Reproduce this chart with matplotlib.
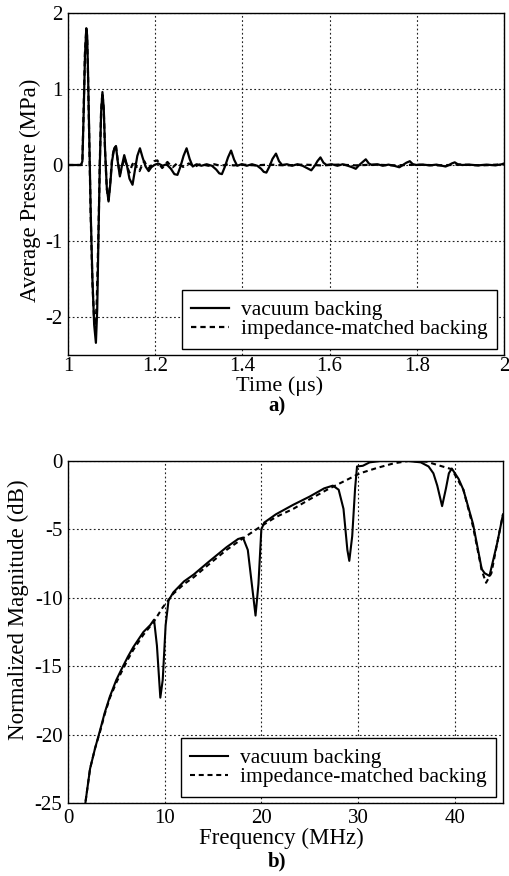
import matplotlib
matplotlib.use("Agg")
import matplotlib.pyplot as plt
from matplotlib.ticker import FuncFormatter

plt.rcParams['font.family'] = ['Liberation Serif', 'DejaVu Serif']

# ---------------- data: panel a) time signals ----------------
t_vacuum = [1.000, 1.030, 1.033, 1.036, 1.039, 1.042, 1.044, 1.046, 1.049, 1.052,
            1.056, 1.060, 1.064, 1.067, 1.070, 1.073, 1.076, 1.079, 1.082, 1.085,
            1.089, 1.093, 1.097, 1.101, 1.106, 1.110, 1.114, 1.119, 1.124, 1.129,
            1.135, 1.141, 1.148, 1.154, 1.159, 1.165, 1.171, 1.178, 1.185, 1.191,
            1.198, 1.207, 1.217, 1.226, 1.236, 1.244, 1.251, 1.258, 1.265, 1.272,
            1.279, 1.286, 1.295, 1.306, 1.318, 1.330, 1.340, 1.347, 1.353, 1.360,
            1.367, 1.374, 1.381, 1.388, 1.398, 1.410, 1.422, 1.434, 1.443, 1.449,
            1.455, 1.462, 1.469, 1.477, 1.484, 1.491, 1.502, 1.514, 1.526, 1.538,
            1.548, 1.558, 1.566, 1.572, 1.579, 1.586, 1.593, 1.605, 1.618, 1.630,
            1.642, 1.652, 1.660, 1.668, 1.676, 1.683, 1.690, 1.697, 1.710, 1.722,
            1.735, 1.748, 1.760, 1.768, 1.776, 1.784, 1.791, 1.800, 1.815, 1.830,
            1.845, 1.858, 1.866, 1.874, 1.880, 1.887, 1.894, 1.905, 1.920, 1.940,
            1.960, 1.980, 1.995, 2.000]
p_vacuum = [0.00, 0.00, 0.05, 0.70, 1.45, 1.80, 1.70, 1.20, 0.30, -0.60,
            -1.50, -2.10, -2.34, -1.90, -0.90, 0.00, 0.70, 0.96, 0.75, 0.20,
            -0.30, -0.48, -0.25, 0.05, 0.22, 0.25, 0.05, -0.15, 0.00, 0.13,
            0.00, -0.18, -0.26, -0.05, 0.12, 0.22, 0.10, -0.02, -0.08, -0.03,
            0.00, 0.02, -0.01, 0.01, -0.05, -0.12, -0.13, -0.02, 0.12, 0.22,
            0.08, -0.02, 0.01, -0.01, 0.01, -0.01, -0.06, -0.11, -0.12, -0.02,
            0.10, 0.19, 0.07, -0.01, 0.01, -0.01, 0.01, -0.01, -0.05, -0.09,
            -0.10, -0.02, 0.08, 0.15, 0.05, 0.00, 0.01, -0.01, 0.01, -0.01,
            -0.04, -0.07, -0.01, 0.05, 0.10, 0.03, 0.00, 0.01, -0.01, 0.01,
            -0.01, -0.03, -0.05, 0.00, 0.04, 0.075, 0.02, 0.00, 0.01, -0.01,
            0.005, -0.01, -0.03, 0.00, 0.03, 0.05, 0.01, 0.00, 0.005, -0.005,
            0.005, -0.01, -0.02, 0.00, 0.02, 0.035, 0.01, 0.00, 0.005, -0.005,
            0.005, -0.005, 0.01, 0.02]

t_matched = [1.000, 1.030, 1.033, 1.036, 1.039, 1.042, 1.044, 1.046, 1.049, 1.052,
             1.056, 1.060, 1.063, 1.066, 1.070, 1.073, 1.076, 1.079, 1.082, 1.085,
             1.089, 1.093, 1.097, 1.101, 1.106, 1.110, 1.115, 1.119, 1.125, 1.130,
             1.136, 1.141, 1.147, 1.152, 1.158, 1.164, 1.170, 1.175, 1.181, 1.186,
             1.192, 1.198, 1.205, 1.211, 1.216, 1.222, 1.228, 1.234, 1.240, 1.246,
             1.252, 1.258, 1.264, 1.271, 1.277, 1.284, 1.291, 1.299, 1.306, 1.314,
             1.322, 1.335, 1.350, 1.365, 1.380, 1.400, 1.430, 1.460, 1.500, 1.540,
             1.580, 1.620, 1.660, 1.700, 1.750, 1.800, 1.850, 1.900, 1.950, 2.000]
p_matched = [0.00, 0.00, 0.05, 0.75, 1.50, 1.78, 1.65, 1.15, 0.25, -0.65,
             -1.55, -2.05, -2.12, -1.80, -0.85, 0.05, 0.72, 0.95, 0.72, 0.18,
             -0.32, -0.46, -0.22, 0.08, 0.23, 0.24, 0.02, -0.12, 0.00, 0.09,
             -0.03, -0.10, 0.00, 0.05, -0.04, -0.08, 0.00, 0.05, -0.02, -0.04,
             0.00, 0.05, 0.06, 0.00, -0.04, 0.00, 0.04, 0.00, -0.03, 0.00,
             0.03, 0.00, -0.025, 0.00, 0.02, 0.00, -0.02, 0.00, 0.015, 0.00,
             -0.01, 0.01, -0.01, 0.005, -0.005, 0.005, -0.005, 0.005, -0.005, 0.005,
             -0.005, 0.005, -0.005, 0.005, -0.005, 0.005, -0.005, 0.005, -0.005, 0.01]

# ---------------- data: panel b) spectra ----------------
f_vacuum = [1.70, 2.28, 2.8, 3.31, 3.8, 4.34, 5.0, 5.55, 6.2, 6.76,
            7.8, 8.5, 8.9, 9.2, 9.55, 9.8, 10.1, 10.4, 10.9, 12.0,
            13.0, 14.5, 16.4, 17.6, 18.1, 18.6, 19.1, 19.4, 19.7, 20.0,
            20.3, 21.5, 23.3, 25.0, 26.5, 27.4, 28.0, 28.5, 28.9, 29.1,
            29.4, 29.7, 29.9, 30.5, 31.2, 32.3, 34.0, 35.2, 36.5, 37.3,
            37.8, 38.2, 38.7, 39.1, 39.4, 39.7, 40.4, 40.9, 41.9, 42.5,
            42.8, 43.1, 43.6, 44.0, 44.4, 45.0]
db_vacuum = [-25.5, -22.5, -21.0, -19.7, -18.4, -17.2, -16.0, -15.2, -14.3, -13.6,
             -12.5, -12.0, -11.6, -13.5, -17.3, -16.0, -12.0, -10.2, -9.6, -8.8,
             -8.3, -7.4, -6.3, -5.7, -5.6, -6.5, -9.5, -11.3, -9.0, -5.0,
             -4.5, -3.9, -3.2, -2.6, -2.0, -1.8, -2.1, -3.5, -6.5, -7.3,
             -5.5, -2.0, -0.4, -0.35, -0.1, 0.0, 0.0, 0.0, -0.1, -0.4,
             -0.9, -1.8, -3.3, -2.0, -0.9, -0.55, -1.3, -2.1, -4.6, -6.8,
             -7.9, -8.2, -8.4, -7.2, -6.0, -3.9]

f_matched = [1.70, 2.28, 2.8, 3.31, 3.8, 4.34, 5.0, 5.55, 6.2, 6.76,
             7.8, 8.83, 9.8, 10.9, 12.0, 13.0, 14.5, 16.4, 18.0, 19.9,
             21.5, 23.3, 25.0, 26.8, 28.5, 30.2, 32.0, 33.7, 35.2, 36.2,
             37.1, 38.5, 39.7, 40.9, 41.9, 42.8, 43.25, 43.8, 44.4, 45.0]
db_matched = [-25.5, -22.5, -21.0, -19.8, -18.5, -17.3, -16.2, -15.4, -14.5, -13.8,
              -12.7, -11.8, -10.7, -9.7, -9.0, -8.5, -7.6, -6.5, -5.7, -4.8,
              -4.1, -3.5, -2.8, -2.1, -1.5, -0.9, -0.5, -0.17, 0.0, -0.02,
              -0.05, -0.35, -0.6, -2.1, -4.8, -8.0, -8.9, -8.2, -6.0, -3.9]

labels = ["vacuum backing", "impedance-matched backing"]
xticks_a = [1, 1.2, 1.4, 1.6, 1.8, 2]
yticks_a = [-2, -1, 0, 1, 2]
xticks_b = [0, 10, 20, 30, 40]
yticks_b = [-25, -20, -15, -10, -5, 0]

# ---------------- figure ----------------
W, H = 509, 876
fig = plt.figure(figsize=(W / 100, H / 100), dpi=100)
fig.patch.set_facecolor('white')

ax1 = fig.add_axes([68 / W, (H - 355) / H, (504 - 68) / W, (355 - 13) / H])
ax2 = fig.add_axes([68 / W, (H - 803) / H, (503 - 68) / W, (803 - 461) / H])

dash = (0, (2.4, 1.8))
fmt = FuncFormatter(lambda v, p: ('%g' % v).replace('\u2212', '-'))

for ax in (ax1, ax2):
    ax.grid(True, color='#222222', linestyle=(0, (1.6, 2.2)), linewidth=0.8)
    ax.set_axisbelow(True)
    ax.tick_params(length=0, labelsize=15, pad=4, colors='black')
    for s in ax.spines.values():
        s.set_linewidth(1.0)
        s.set_color('black')
    ax.xaxis.set_major_formatter(fmt)
    ax.yaxis.set_major_formatter(fmt)
ax1.tick_params(axis='x', pad=1.5)

ax1.plot(t_vacuum, p_vacuum, color='black', lw=1.6, label=labels[0])
ax1.plot(t_matched, p_matched, color='black', lw=1.6, linestyle=dash, label=labels[1])
ax1.set_xlim(1, 2)
ax1.set_ylim(-2.5, 2)
ax1.set_xticks(xticks_a)
ax1.set_yticks(yticks_a)

ax2.plot(f_vacuum, db_vacuum, color='black', lw=1.5, label=labels[0])
ax2.plot(f_matched, db_matched, color='black', lw=1.5, linestyle=dash, label=labels[1])
ax2.set_xlim(0, 45)
ax2.set_ylim(-25, 0)
ax2.set_xticks(xticks_b)
ax2.set_yticks(yticks_b)

for ax in (ax1, ax2):
    leg = ax.legend(loc='lower right', bbox_to_anchor=(0.984, 0.018), borderaxespad=0,
                    fontsize=15.5, frameon=True, fancybox=False, framealpha=1,
                    edgecolor='black', handlelength=1.75, handletextpad=0.55,
                    borderpad=0.45, labelspacing=-0.05)
    leg.get_frame().set_linewidth(1.0)

# axis labels and panel captions
fig.text(280 / W, 1 - 386 / H, 'Time (\u03bcs)', ha='center', va='center', fontsize=16)
fig.text(277 / W, 1 - 406 / H, 'a)', ha='center', va='center', fontsize=15, fontweight='bold')
fig.text(30 / W, 1 - 190 / H, 'Average Pressure (MPa)', ha='center', va='center',
         rotation=90, fontsize=16.5)

fig.text(281 / W, 1 - 838 / H, 'Frequency (MHz)', ha='center', va='center', fontsize=16.5)
fig.text(277 / W, 1 - 861 / H, 'b)', ha='center', va='center', fontsize=15, fontweight='bold')
fig.text(18 / W, 1 - 610 / H, 'Normalized Magnitude (dB)', ha='center', va='center',
         rotation=90, fontsize=16.5)

fig.savefig('out.png', dpi=100)
